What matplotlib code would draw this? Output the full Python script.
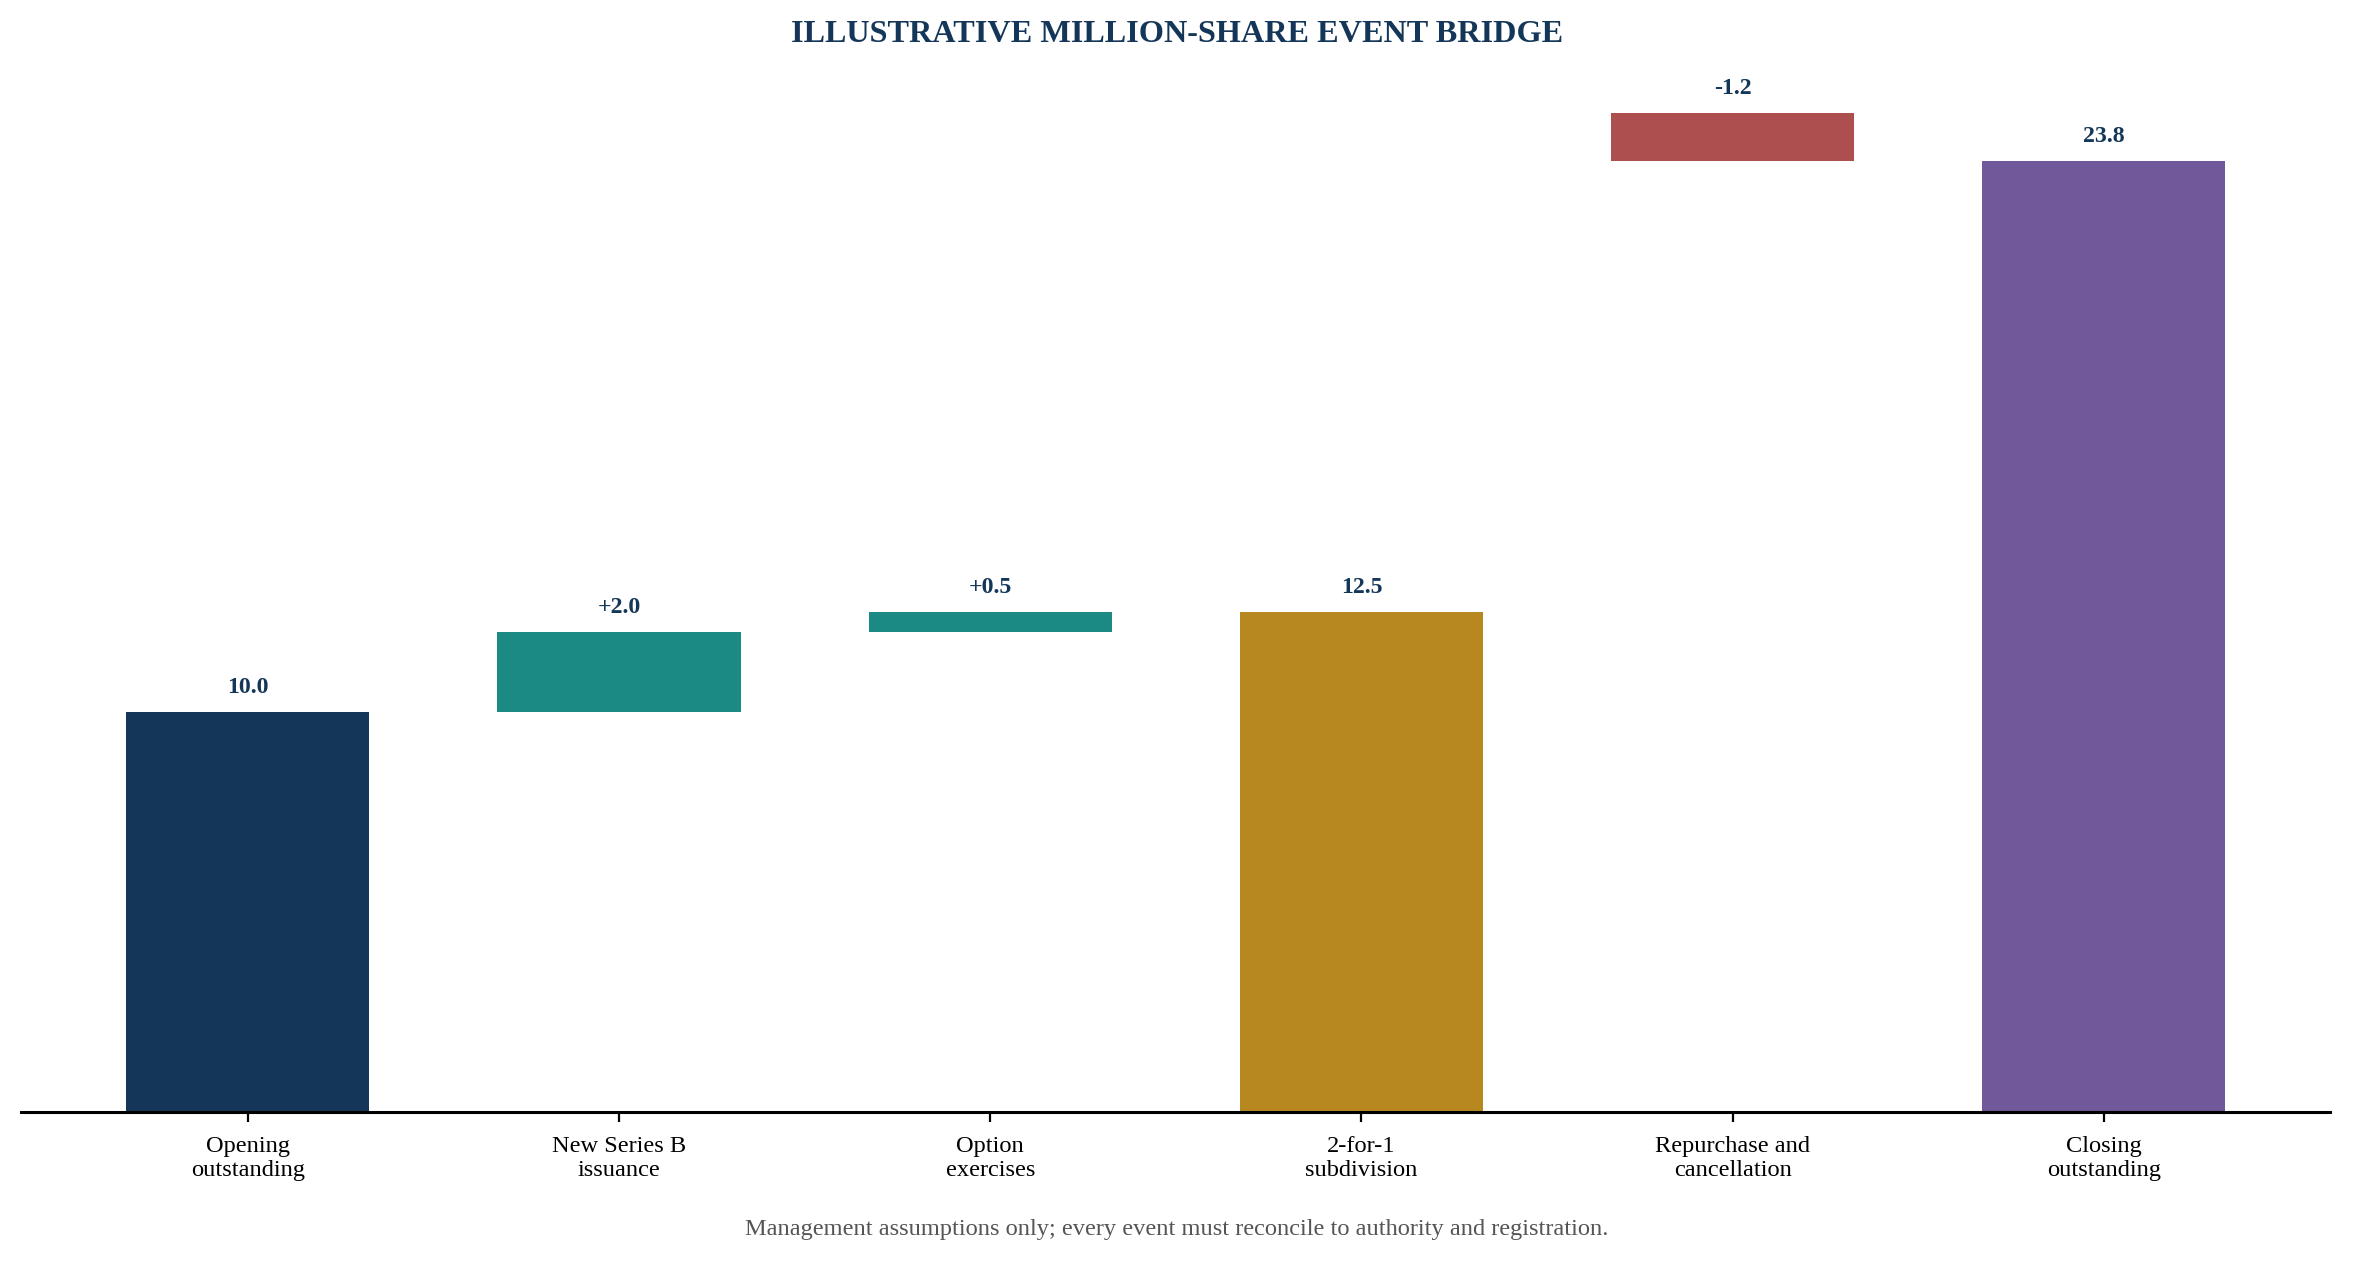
import matplotlib
matplotlib.use("Agg")
import matplotlib.pyplot as plt
import numpy as np

# bridge data (million shares)
steps = ["Opening\noutstanding", "New Series B\nissuance", "Option\nexercises",
         "2-for-1\nsubdivision", "Repurchase and\ncancellation", "Closing\noutstanding"]
values = [10.0, 2.0, 0.5, 12.5, -1.2, 23.8]
kinds = ["total", "delta", "delta", "split", "delta", "total"]
labels = ["10.0", "+2.0", "+0.5", "12.5", "-1.2", "23.8"]
colors = ["#143658", "#1b8a84", "#1b8a84", "#b88820", "#ad4f4f", "#70589a"]

plt.rcParams['font.family'] = ['Liberation Serif', 'DejaVu Serif']

fig = plt.figure(figsize=(11.77, 6.305), dpi=200)
ax = fig.add_axes([0.009, 0.1182, 0.981, 0.84])

bottoms = []
heights = []
running = 0.0
for v, k in zip(values, kinds):
    if k == "total":
        bottoms.append(0.0)
        heights.append(v)
        running = v
    elif k == "split":
        # subdivision shown as its own bar; running total doubles
        bottoms.append(0.0)
        heights.append(v)
        running = running * 2
    else:
        if v >= 0:
            bottoms.append(running)
        else:
            bottoms.append(running + v)
        heights.append(abs(v))
        running += v

x = np.arange(len(steps))
ax.bar(x, heights, bottom=bottoms, width=0.655, color=colors, zorder=2)

for xi, b, h, lab in zip(x, bottoms, heights, labels):
    ax.annotate(lab, (xi, b + h), xytext=(0, 5), textcoords="offset points",
                ha="center", va="bottom", fontsize=8.6, fontweight="bold", color="#143658")

ax.set_ylim(0, 26.5)
ax.set_xticks(x)
ax.set_xticklabels(steps, fontsize=8.8)
ax.set_yticks([])
for s in ["top", "right", "left"]:
    ax.spines[s].set_visible(False)
ax.spines["bottom"].set_linewidth(1.1)
ax.tick_params(axis="x", length=3.5, width=0.8, pad=5)

fig.text(0.5, 0.973, "ILLUSTRATIVE MILLION-SHARE EVENT BRIDGE", ha="center", va="center",
         fontsize=11.6, fontweight="bold", color="#143658")
fig.text(0.5, 0.025, "Management assumptions only; every event must reconcile to authority and registration.",
         ha="center", va="center", fontsize=8.8, color="#555555")

fig.savefig("out.png", dpi=200)
